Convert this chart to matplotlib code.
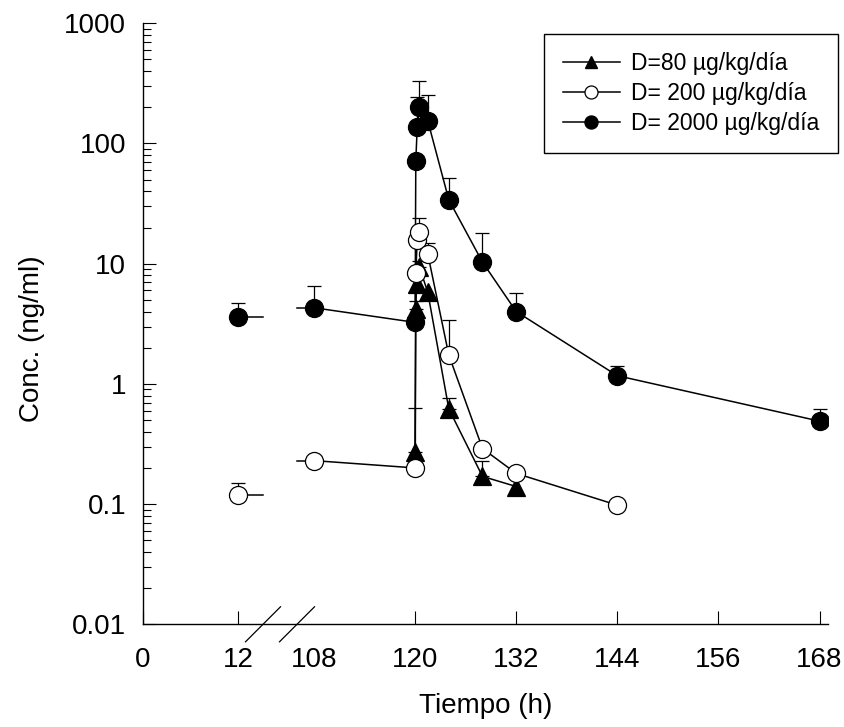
import numpy as np
import matplotlib
matplotlib.use("Agg")
import matplotlib.pyplot as plt
import matplotlib.transforms as mtransforms
from matplotlib.lines import Line2D
from matplotlib.ticker import FixedLocator, LogLocator, NullFormatter

plt.rcParams['font.family'] = ['Liberation Sans', 'DejaVu Sans']

# tiempo (h), concentracion (ng/ml), error superior (ng/ml)
t_80 = [120.0, 120.083, 120.167, 120.5, 121.5, 124, 128, 132]
c_80 = [0.27, 4.2, 6.8, 9.4, 5.8, 0.62, 0.17, 0.14]
e_80 = [0.36, 0.67, 0, 1.2, 0, 0.15, 0.06, 0]

t_200 = [12, 108, 120.0, 120.083, 120.25, 120.5, 121.5, 124, 128, 132, 144]
c_200 = [0.118, 0.23, 0.2, 8.4, 15.6, 18.2, 12.1, 1.74, 0.29, 0.18, 0.098]
e_200 = [0.032, 0, 0, 0, 0, 5.7, 2.9, 1.66, 0, 0, 0]

t_2000 = [12, 108, 120.0, 120.083, 120.25, 120.5, 121.5, 124, 128, 132, 144, 168]
c_2000 = [3.6, 4.3, 3.25, 72, 136, 200, 155, 34, 10.3, 4.0, 1.17, 0.49]
e_2000 = [1.1, 2.2, 2.55, 0, 109, 134, 100, 18, 7.6, 1.7, 0.23, 0.13]

xticks = [0, 12, 108, 120, 132, 144, 156, 168]
yticks = [0.01, 0.1, 1, 10, 100, 1000]
ylabels = ["0.01", "0.1", "1", "10", "100", "1000"]

# eje x con corte entre 12 y 108 (unidades = pixeles del eje)
BREAK_L, BREAK_R = 120.3, 154.3


def to_u(x):
    x = np.asarray(x, float)
    return np.where(x <= 12, x * 95.6 / 12, 171.3 + (x - 108) * 8.425)


fig = plt.figure(figsize=(8.45, 7.27), dpi=100)
ax = fig.add_axes([142.7 / 845, 1 - 624.3 / 727, 685 / 845, 601 / 727])
ax.set_yscale('log')
ax.set_xlim(0, 685)
ax.set_ylim(0.01, 1000)

series = [
    (t_2000, c_2000, e_2000, dict(marker='o', ms=13, mfc='k')),
    (t_80, c_80, e_80, dict(marker='^', ms=12.5, mfc='k')),
    (t_200, c_200, e_200, dict(marker='o', ms=13, mfc='w')),
]

for t, c, e, st in series:
    t = np.asarray(t, float)
    c = np.asarray(c, float)
    e = np.asarray(e, float)
    u = to_u(t)
    left = t <= 12
    right = t >= 108
    ax.plot(u[right], c[right], '-', color='k', lw=1.1, zorder=2)
    if left.any():
        ax.plot([u[left][-1], BREAK_L], [c[left][-1]] * 2, '-', color='k', lw=1.1, zorder=2)
        ax.plot([BREAK_R, u[right][0]], [c[right][0]] * 2, '-', color='k', lw=1.1, zorder=2)
    m = e > 0
    ax.errorbar(u[m], c[m], yerr=[np.zeros(m.sum()), e[m]], fmt='none', ecolor='k',
                elinewidth=0.9, capsize=4.7, capthick=0.9, zorder=2)
    ax.plot(u, c, linestyle='none', mec='k', mew=0.9, zorder=3, **st)

# marcas de corte
trans = mtransforms.blended_transform_factory(ax.transData, ax.transAxes)
dy = 17.5 / 601
for xb in (BREAK_L, BREAK_R):
    ax.add_line(Line2D([xb - 17.5, xb + 17.5], [-dy, dy], transform=trans,
                       color='k', lw=0.9, clip_on=False))

for side in ('top', 'right'):
    ax.spines[side].set_visible(False)
for side in ('left', 'bottom'):
    ax.spines[side].set_linewidth(1.0)

ax.set_xticks(to_u(xticks))
ax.set_xticklabels([str(v) for v in xticks])
ax.xaxis.get_major_ticks()[2].tick1line.set_visible(False)
ax.yaxis.set_major_locator(FixedLocator(yticks))
ax.set_yticklabels(ylabels)
ax.yaxis.set_minor_locator(LogLocator(base=10, subs=np.arange(2, 10)))
ax.yaxis.set_minor_formatter(NullFormatter())
ax.tick_params(axis='both', which='major', direction='in', length=9.5, width=0.8, labelsize=20)
ax.tick_params(axis='x', pad=16)
ax.tick_params(axis='y', pad=12)
ax.tick_params(axis='y', which='minor', direction='in', length=5.5, width=0.8)

ax.set_xlabel("Tiempo (h)", fontsize=20, labelpad=15)
ax.set_ylabel("Conc. (ng/ml)", fontsize=20)
ax.yaxis.set_label_coords(-0.143, 0.476)

handles = [
    Line2D([], [], color='k', lw=1.1, marker='^', ms=12.5, mfc='k', mec='k'),
    Line2D([], [], color='k', lw=1.1, marker='o', ms=13, mfc='w', mec='k', mew=0.9),
    Line2D([], [], color='k', lw=1.1, marker='o', ms=13, mfc='k', mec='k'),
]
labels = ["D=80 µg/kg/día", "D= 200 µg/kg/día", "D= 2000 µg/kg/día"]
leg = fig.legend(handles, labels, loc='upper right', bbox_to_anchor=(838 / 845, 1 - 34 / 727),
                 bbox_transform=fig.transFigure, borderaxespad=0, fontsize=16.5,
                 markerscale=0.72, handlelength=2.5, handletextpad=0.5,
                 labelspacing=0.3, borderpad=0.8, fancybox=False, framealpha=1)
leg.get_frame().set_edgecolor('k')
leg.get_frame().set_linewidth(1.0)

plt.savefig("out.png", dpi=100)
plt.close()
